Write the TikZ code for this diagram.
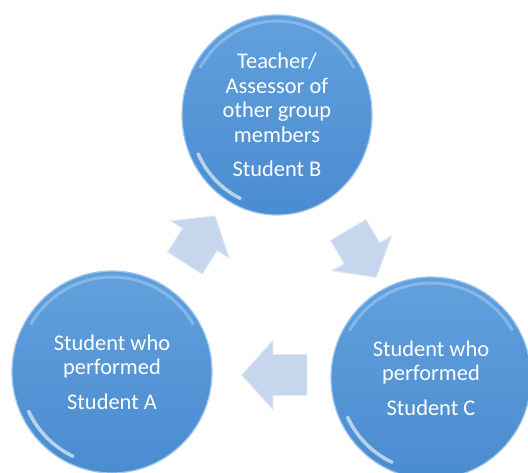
\documentclass[tikz,border=0pt]{standalone}
\usepackage{fontspec}
\setmainfont{Carlito}
\usepackage{tikz}
\usetikzlibrary{calc,positioning,shapes.geometric,shapes.arrows}
\usepackage{xcolor}
\definecolor{disctop}{RGB}{98,160,221}
\definecolor{discbot}{RGB}{74,140,208}
\definecolor{discrim}{RGB}{160,200,238}
\definecolor{arrowfill}{RGB}{198,214,237}
\definecolor{arrowedge}{RGB}{222,232,246}

\begin{document}
\begin{tikzpicture}[x=1bp, y=1bp, glint/.style={white, line width=3.5bp, line cap=round, opacity=.6}]
\tikzstyle{disc}=[ellipse, top color=disctop, bottom color=discbot, draw=discrim, line width=1.2bp, text=white, align=center, inner sep=0pt, font=\fontsize{22.5}{24.5}\selectfont]
\tikzstyle{turn}=[single arrow, fill=arrowfill, draw=arrowedge, line width=1bp, inner xsep=0pt, inner ysep=20bp, single arrow head extend=14bp, minimum width=68bp]
\useasboundingbox (0,0) rectangle (528,473);
\node[disc, minimum width=190bp, minimum height=200bp] (sb) at (277,358) {Teacher/\\Assessor of\\other group\\members\\[10bp]Student B};
\node[disc, minimum width=200bp, minimum height=202bp] (sa) at (112,101) {Student who\\performed\\[10bp]Student A};
\node[disc, minimum width=200bp, minimum height=202bp] (sc) at (431,95) {Student who\\performed\\[10bp]Student C};
% light band under the top edge and the glint on the lower left
\foreach \n/\rx/\ry in {sb/93/98,sa/98/99,sc/98/99}{
  \draw[discrim, line width=3bp, opacity=.6] ($(\n.center)+(30:\rx-4 and \ry-4)$) arc[start angle=30, end angle=150, x radius=\rx-4, y radius=\ry-4];
  \draw[glint] ($(\n.center)+(205:\rx-6 and \ry-6)$) arc[start angle=205, end angle=245, x radius=\rx-6, y radius=\ry-6];
}
% block arrows between the discs
\node[turn, minimum height=56bp, single arrow tip angle=102, rotate=57.5] (ab) at ($(sa)!0.5!(sb)+(1,-3)$) {};
\node[turn, minimum height=55bp, single arrow tip angle=102, rotate=-59.5] (bc) at ($(sb)!0.5!(sc)+(4,0)$) {};
\node[turn, minimum height=65bp, single arrow tip angle=96, rotate=180] (ca) at ($(sc)!0.5!(sa)+(12,0)$) {};
\end{tikzpicture}
\end{document}
